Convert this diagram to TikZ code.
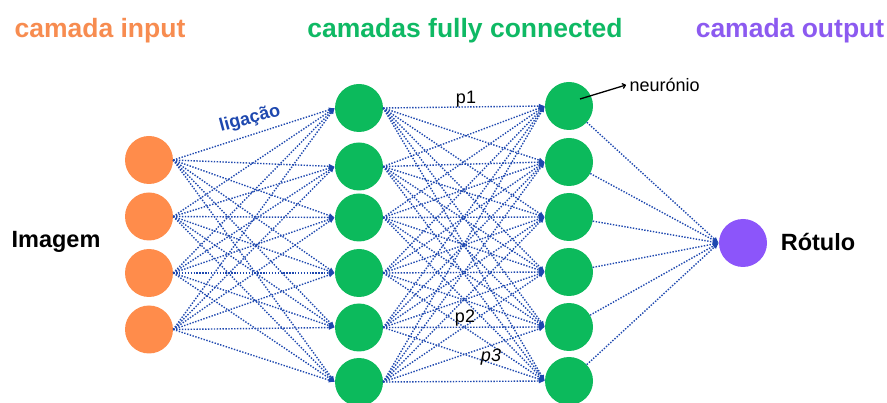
\documentclass[tikz,border=0pt]{standalone}
\usepackage{fontspec}
\setmainfont{Liberation Sans}
\usetikzlibrary{arrows.meta}

\definecolor{inorange}{RGB}{255,140,75}
\definecolor{fcgreen}{RGB}{12,186,92}
\definecolor{outpurple}{RGB}{140,85,250}
\definecolor{linkblue}{RGB}{30,72,175}
\definecolor{titleorange}{RGB}{247,140,80}
\definecolor{titlegreen}{RGB}{15,185,100}
\definecolor{titlepurple}{RGB}{140,90,240}

\begin{document}
\begin{tikzpicture}[x=1pt,y=-1pt,
  neuron/.style={circle,minimum size=48pt,inner sep=0pt},
  link/.style={linkblue,line width=1.4pt,dash pattern=on 1.4pt off 1.5pt,
               -{Latex[length=6pt,width=5pt]}},
  title/.style={font=\bfseries\fontsize{26.5}{30}\selectfont,anchor=base},
  side/.style={font=\bfseries\fontsize{23.5}{28}\selectfont,anchor=base},
  weight/.style={font=\fontsize{18}{20}\selectfont}]

\useasboundingbox (0,0) rectangle (887,403);

% layer titles
\node[title,text=titleorange] (tin)  at (100,38) {camada input};
\node[title,text=titlegreen]  (tfc)  at (465,38) {camadas fully connected};
\node[title,text=titlepurple] (tout) at (790,38) {camada output};

% input layer
\foreach \y [count=\i] in {160,216.5,273,329.5}
  \node[neuron,fill=inorange] (i\i) at (149,\y) {};
% first fully connected layer
\foreach \y [count=\i] in {108,166.5,217.5,273,327.5,382}
  \node[neuron,fill=fcgreen] (h\i) at (359,\y) {};
% second fully connected layer
\foreach \y [count=\i] in {106,162,217,272,327,381}
  \node[neuron,fill=fcgreen] (k\i) at (569,\y) {};
% output
\node[neuron,fill=outpurple] (o) at (743,243) {};

% connections
\foreach \a in {1,...,4}
  \foreach \b in {1,...,6}
    \draw[link] (i\a.east) -- (h\b.west);
\foreach \a in {1,...,6}
  \foreach \b in {1,...,6}
    \draw[link] (h\a.east) -- (k\b.west);
\foreach \a in {1,...,6}
  \draw[link] (k\a) -- (o.west);

% side labels
\node[side] (img) at (56,248) {Imagem};
\node[side] (rot) at (818,251) {Rótulo};

% annotations
\node[font=\bfseries\fontsize{18}{20}\selectfont,text=linkblue,rotate=15,inner sep=1pt] (lig) at (250,119) {ligação};
\node[weight] (p1) at (466,99) {p1};
\node[weight] (p2) at (465,318) {p2};
\node[weight,font=\itshape\fontsize{18}{20}\selectfont] (p3) at (491,357) {p3};
\node[weight,anchor=west] (neu) at (626,85) {neurónio};
\coordinate (nstart) at (580,99);
\draw[line width=1.3pt,-{To[length=4pt,width=6pt]}] (nstart) -- (neu.west);

\end{tikzpicture}
\end{document}
